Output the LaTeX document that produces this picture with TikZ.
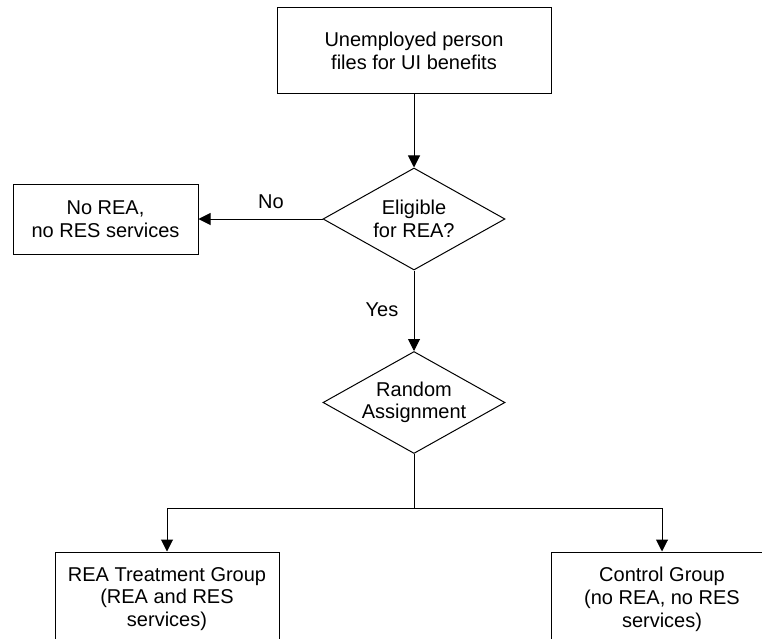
\documentclass[tikz,border=0pt]{standalone}
\usepackage{fontspec}
\setmainfont{Liberation Sans}
\usetikzlibrary{shapes.geometric,arrows.meta}
\begin{document}
\begin{tikzpicture}[x=1pt,y=-1pt, line width=1pt,
  every node/.style={font=\fontsize{20}{22.5}\selectfont, align=center},
  box/.style={draw, rectangle, inner sep=0pt},
  decision/.style={draw, diamond, inner sep=0pt, aspect=1.78, minimum width=182pt, minimum height=102pt},
  arr/.style={-{Triangle[length=12pt,width=12pt]}},
  lbl/.style={inner sep=0pt}]
\useasboundingbox (0,0) rectangle (762,639);
\node[box, minimum width=274pt, minimum height=86pt] (start) at (414,51) {Unemployed person\\files for UI benefits};
\node[decision] (elig) at (414,219) {Eligible\\for REA?};
\node[box, minimum width=185pt, minimum height=70pt] (norea) at (105.5,219) {No REA,\\no RES services};
\node[decision] (rand) at (414,402.5) {Random\\Assignment};
\coordinate (split) at (414,508);
\node[box, minimum width=224pt, minimum height=128pt] (treat) at (167,616) {};
\node[box, minimum width=222pt, minimum height=128pt] (ctrl) at (662,616) {};
\node[lbl, anchor=north] (treattxt) at (167,567) {REA Treatment Group\\(REA and RES\\services)};
\node[lbl, anchor=north] (ctrltxt) at (662,567) {Control Group\\(no REA, no RES\\services)};
\node[lbl] (nolbl) at (271,202) {No};
\node[lbl] (yeslbl) at (382,310) {Yes};
\draw[arr] (start.south) -- (elig.north);
\draw[arr] (elig.west) -- (norea.east);
\draw[arr] (elig.south) -- (rand.north);
\draw (rand.south) -- (split);
\draw[arr] (split) -| (treat.north);
\draw[arr] (split) -| (ctrl.north);
\end{tikzpicture}
\end{document}
